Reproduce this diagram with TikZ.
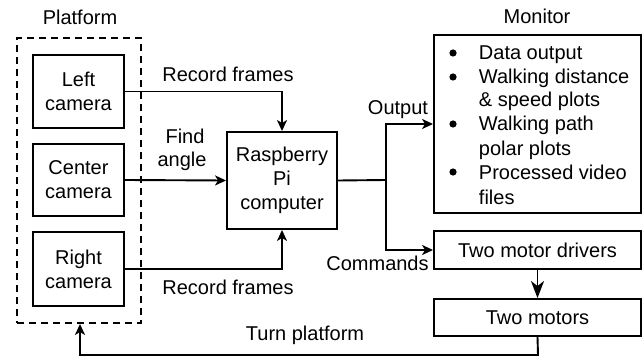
\documentclass[tikz,border=0pt]{standalone}
\usepackage{fontspec}
\setmainfont{Liberation Sans}
\usetikzlibrary{arrows.meta}
\begin{document}
\begin{tikzpicture}[x=1pt,y=-1pt,
  font=\fontsize{20}{24}\selectfont,
  line width=1.9pt,
  box/.style={draw,rectangle,align=center,inner sep=0pt},
  lbl/.style={inner sep=0pt,anchor=base},
  arr/.style={-{Stealth[length=11pt,width=10pt,inset=3pt]}},
  bigarr/.style={-{Stealth[length=17pt,width=13pt,inset=5pt]}},
  platbox/.style={draw,dash pattern=on 7pt off 5pt,inner sep=0pt}]
\useasboundingbox (0,0) rectangle (644,358);

% platform with its three cameras
\node[platbox,minimum width=124pt,minimum height=285pt] (plat) at (79,180.5) {};
\node[lbl] (ptitle) at (80,25) {Platform};
\node[box,minimum width=91pt,minimum height=73pt] (lc) at (78.5,91.5) {Left\\camera};
\node[box,minimum width=91pt,minimum height=72pt] (cc) at (78.5,180) {Center\\camera};
\node[box,minimum width=91pt,minimum height=74pt] (rc) at (78.5,269) {Right\\camera};

% on-board computer
\node[box,minimum width=110pt,minimum height=97pt] (pi) at (282,180.5) {Raspberry\\Pi\\computer};

% monitor with its list of outputs
\node[box,minimum width=207pt,minimum height=178pt] (mon) at (537.5,124) {};
\node[lbl] (mtitle) at (537,24) {Monitor};
\foreach \yy/\txt [count=\i] in {60/Data output,84/Walking distance,107/\& speed plots,
    131/Walking path,155/polar plots,179/Processed video,204/files}{
  \node[lbl,anchor=base west] (m\i) at (478,\yy) {\txt};
}
\foreach \yy [count=\i] in {53,77,124,172}{
  \fill (453,\yy) circle (3.6pt);
}

% motor chain
\node[box,minimum width=207pt,minimum height=38pt] (drv) at (537.5,250) {Two motor drivers};
\node[box,minimum width=207pt,minimum height=37pt] (mot) at (537.5,317.5) {Two motors};

% connectors
\draw[arr] (lc.east) -| (pi.north);
\draw[arr] (cc.east) -- (pi.west);
\draw[arr] (rc.east) -| (pi.south);
\coordinate (j) at (386,180);
\draw[arr] (pi.east) -- (j) |- (mon.west);
\draw[arr] (j) |- (drv.west);
\draw[bigarr] (drv.south) -- (mot.north);
\coordinate (bl) at (538,355);
\coordinate (br) at (80,355);
\draw[arr] (mot.south) -- (bl) -- (br) -- (plat.south -| br);

% connector labels
\node[lbl] (rf1) at (228,82) {Record frames};
\node[lbl] (fa1) at (185,144) {Find};
\node[lbl] (fa2) at (182,167) {angle};
\node[lbl] (rf2) at (228,294) {Record frames};
\node[lbl] (out) at (398,115) {Output};
\node[lbl] (cmd) at (377.5,270) {Commands};
\node[lbl] (tp) at (305,340) {Turn platform};
\end{tikzpicture}
\end{document}
